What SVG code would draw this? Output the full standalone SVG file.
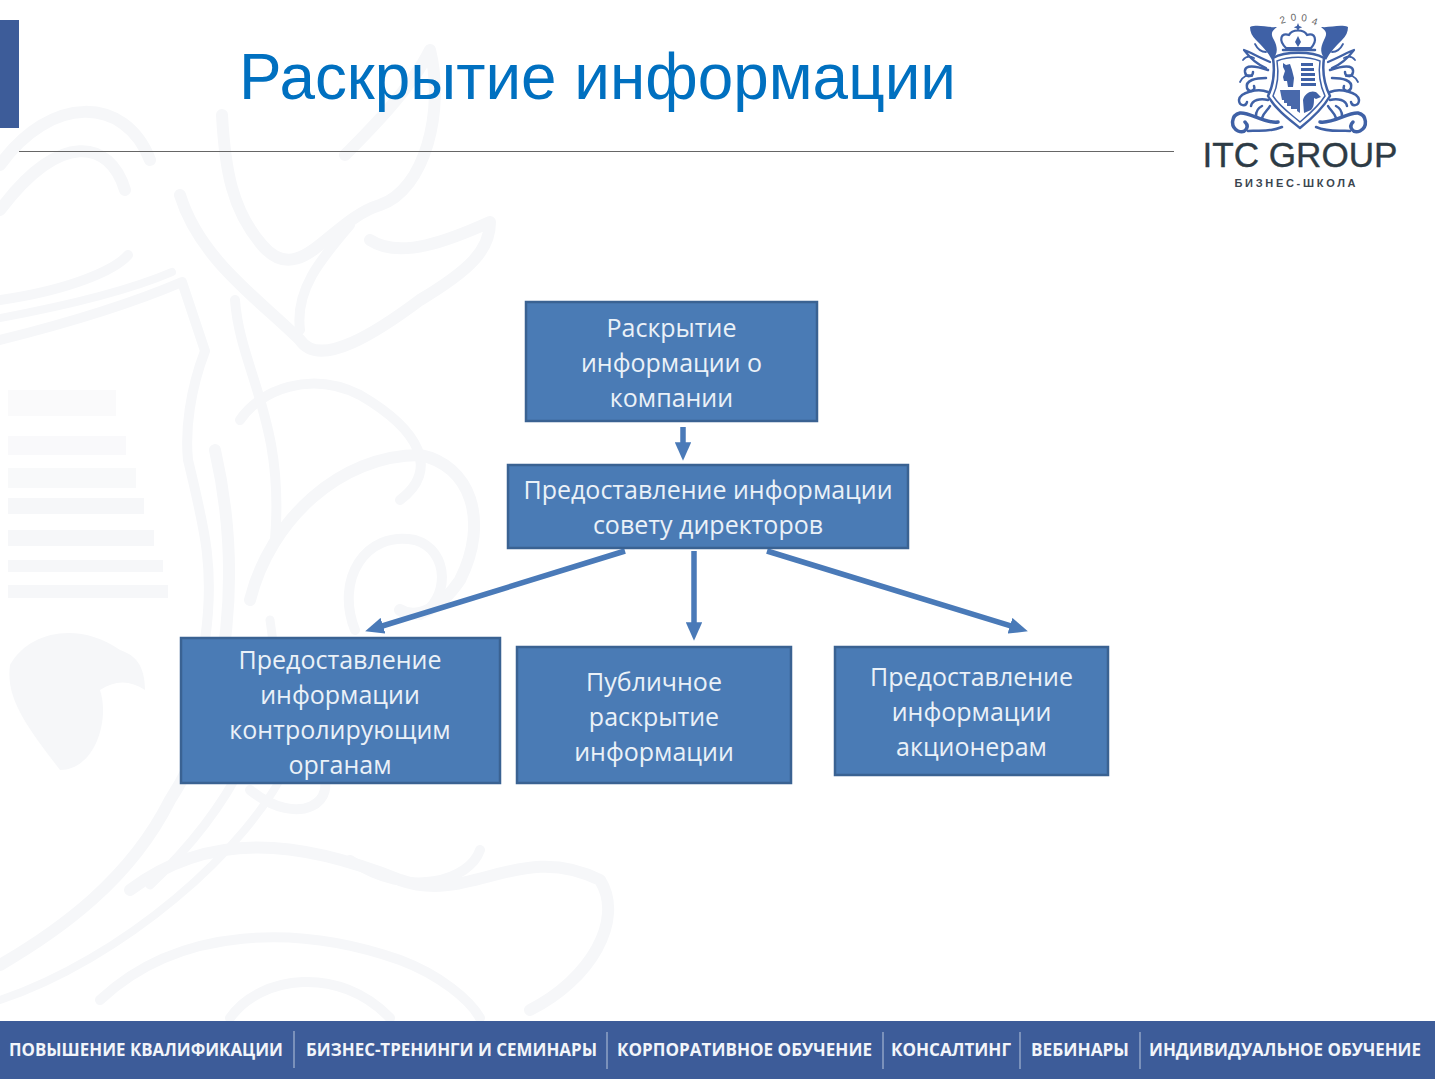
<svg xmlns="http://www.w3.org/2000/svg" width="1435" height="1079" viewBox="0 0 1435 1079">
<defs>
<marker id="ah" viewBox="0 0 10 10" refX="5" refY="5" markerWidth="3.400" markerHeight="3" orient="auto" preserveAspectRatio="none"><path d="M0 0L10 5L0 10Z" fill="#4a7ab8"/></marker>
<g id="scroll">
<path class="lf" d="M1250 27C1258 24 1268 28 1277 27C1272 31 1270 33 1274 40C1278 48 1278 54 1272 60C1268 52 1262 46 1256 40C1252 36 1250 32 1250 27Z"/>
<path class="lg" stroke-width="2.200" d="M1270 62C1260 58 1250 52 1244 50C1250 58 1256 64 1266 68"/>
<path class="lg" stroke-width="2.500" d="M1268 70C1256 66 1244 64 1245 72C1246 78 1253 77 1253 72M1266 78C1256 78 1245 80 1247 88C1249 93 1256 91 1254 86"/>
<path class="lg" stroke-width="2.500" d="M1268 92C1258 88 1240 92 1239 100C1239 106 1246 107 1247 102M1268 100C1260 98 1252 100 1251 106"/>
<path class="lg" stroke-width="3.500" d="M1278 122C1265 124 1250 112 1240 113C1231 115 1230 127 1238 131C1245 134 1250 127 1245 122"/>
<path class="lg" stroke-width="2.500" d="M1282 127C1268 133 1256 130 1248 131M1262 118C1264 112 1268 110 1270 106M1256 116C1256 112 1258 108 1262 106"/>
<path class="lg" stroke-width="1.800" d="M1255 44C1258 50 1262 52 1266 52M1243 60C1246 56 1250 56 1254 58M1240 82C1243 76 1248 74 1252 76"/>
</g>
</defs>
<style>
.box{fill:#4a7bb5;stroke:#3a6292;stroke-width:2.5}
.lbl{font-family:"Open Sans","Noto Sans",sans-serif;font-size:25px;fill:#eaf1f8;text-anchor:middle}
.con{fill:none;stroke:#4a7ab8;stroke-width:5.5;marker-end:url(#ah)}
.wm{fill:none;stroke:#f6f7f9;stroke-linecap:round;stroke-linejoin:round}
.wf{fill:#f6f7f9}
.ft{font-family:"Open Sans","Noto Sans",sans-serif;font-size:17px;font-weight:700;fill:#f2f5fa}
.sep{stroke:#b9c6dc;stroke-width:1}
.lg{fill:none;stroke:#3f61a6;stroke-linecap:round;stroke-linejoin:round}
.lf{fill:#3f61a6}
</style>
<rect width="1435" height="1079" fill="#fff"/>
<g id="watermark">
<path class="wm" stroke-width="12" d="M0 165C50 95 125 95 150 160M0 210C60 130 110 140 125 190"/>
<path class="wm" stroke-width="10" d="M0 300C70 290 115 270 128 255M0 340C80 320 140 300 182 282L205 351C190 390 185 430 188 460C205 530 215 570 205 640"/>
<path class="wm" stroke-width="8" d="M0 318C70 305 130 290 172 272"/>
<path class="wm" stroke-width="12" d="M222 115C225 170 232 210 262 245C300 290 330 220 380 205C425 190 445 110 430 50C410 90 370 130 345 155"/>
<path class="wm" stroke-width="12" d="M180 195C200 260 260 300 300 340C320 370 380 330 420 300C470 270 490 250 490 222C450 240 400 260 370 240"/>
<path class="wm" stroke-width="10" d="M300 330C295 290 320 260 350 225M240 420C260 390 310 370 360 395C420 430 440 470 400 500"/>
<path class="wm" stroke-width="12" d="M250 600C270 520 340 455 420 455C470 465 490 520 460 580C440 610 415 620 400 610"/>
<path class="wm" stroke-width="10" d="M355 630C335 580 365 530 415 540C450 550 450 600 420 615M235 300C240 370 285 420 275 540"/>
<path class="wm" stroke-width="12" d="M215 450C240 560 235 700 170 800C130 880 60 930 0 965"/>
<path class="wm" stroke-width="9" d="M270 620C285 700 240 800 150 885"/>
<rect class="wf" x="8" y="390" width="108" height="26" opacity=".6"/><rect class="wf" x="8" y="436" width="118" height="19" opacity=".7"/><rect class="wf" x="8" y="468" width="128" height="20" opacity=".8"/><rect class="wf" x="8" y="498" width="136" height="16"/><rect class="wf" x="8" y="530" width="146" height="16"/><rect class="wf" x="8" y="560" width="155" height="12"/><rect class="wf" x="8" y="585" width="160" height="13"/>
<path class="wf" d="M10 665C30 630 80 622 120 650C135 655 145 665 145 690C130 680 115 680 100 690C110 720 95 770 60 770C30 730 5 700 10 665Z"/>
<path class="wm" stroke-width="12" d="M130 890C210 830 300 840 400 880C470 905 520 840 600 880C625 920 590 980 530 1010"/>
<path class="wm" stroke-width="10" d="M100 1000C180 925 300 925 400 960C440 975 470 1000 480 1018"/>
<path class="wm" stroke-width="10" d="M250 790C300 830 340 800 320 770M350 860C410 900 470 880 480 850M230 1018C260 975 340 965 390 1018"/>
<path class="wm" stroke-width="8" d="M0 1000C120 960 250 850 290 760"/>
</g>
<rect id="accent" x="0" y="20" width="19" height="108" fill="#3d5c99"/>
<line id="rule" x1="19" y1="151.500" x2="1174" y2="151.500" stroke="#666" stroke-width="1.200"/>
<text id="title" x="239" y="99" font-family="Liberation Sans,Arial,sans-serif" font-size="64" fill="#0070c0" textLength="717" lengthAdjust="spacingAndGlyphs">Раскрытие информации</text>
<g id="logo">
<text x="1281 1291 1301 1311" y="24 21 21 24" rotate="-18 -6 6 18" font-family="Liberation Sans,sans-serif" font-size="10" fill="#666">2004</text>
<path class="lf" d="M1298 23l1.200 3 3 1.200-3 1.200-1.200 3-1.200-3-3-1.200 3-1.200z"/>
<path class="lg" stroke-width="2.200" d="M1286 48C1278 40 1281 32 1289 35C1292 29 1304 29 1307 35C1315 32 1318 40 1311 48Z"/>
<path class="lg" stroke-width="2.500" d="M1283 50H1315"/>
<path class="lf" d="M1298 36l3 6-3 5-3-5z"/>
<path class="lg" stroke-width="2.500" d="M1273 58C1285 51 1312 51 1324 58C1322 72 1324 84 1330 96C1322 110 1310 120 1300 128C1290 120 1276 110 1268 96C1274 84 1275 72 1273 58Z"/>
<path class="lg" stroke-width="1.500" d="M1277 61C1288 56 1308 56 1320 61C1318 74 1320 85 1325 96C1318 107 1308 115 1300 122C1292 115 1280 107 1273 96C1278 85 1279 74 1277 61Z"/>
<path class="lf" d="M1283 63l3 2 4-1 2 6 2 8-1 9h-5l-1-6-3 0-1-4 2-6-2-4z"/>
<path class="lf" d="M1301 63h12v3h-12zM1301 68h13v3h-13zM1301 73h14v3h-14zM1301 78h14v3h-14zM1301 83h15v3h-15z"/>
<path class="lf" d="M1280 90h20v23l-3-2v-2h-6v-3h-4v-3h-3v-3h-2z" opacity=".95"/>
<path class="lf" d="M1303 100c2-8 11-11 15-6l3 3-5 2-2-1c0 5 0 9-3 12l-7 3z"/>
<use href="#scroll"/>
<use href="#scroll" transform="translate(2598 0) scale(-1 1)"/>
<text x="1300" y="167" font-family="Liberation Sans,Arial,sans-serif" font-size="35" fill="#2d3b45" stroke="#2d3b45" stroke-width=".4" text-anchor="middle" textLength="195" lengthAdjust="spacingAndGlyphs">ITC GROUP</text>
<text x="1295" y="187" font-family="Liberation Sans,Arial,sans-serif" font-size="11" font-weight="700" fill="#3b4650" text-anchor="middle" textLength="121">БИЗНЕС-ШКОЛА</text>
</g>
<g id="connectors">
<path class="con" d="M683 427V451.500"/>
<path class="con" d="M625 551L374.100 628.500"/>
<path class="con" d="M694 551V631.500"/>
<path class="con" d="M767 551L1018.900 628.500"/>
</g>
<g id="n1"><rect class="box" x="526" y="302" width="291" height="119"/>
<text class="lbl" x="671.500" y="337">Раскрытие</text><text class="lbl" x="671.500" y="372">информации о</text><text class="lbl" x="671.500" y="407">компании</text></g>
<g id="n2"><rect class="box" x="508" y="465" width="400" height="83"/>
<text class="lbl" x="708" y="499">Предоставление информации</text><text class="lbl" x="708" y="534">совету директоров</text></g>
<g id="n3"><rect class="box" x="181" y="638" width="319" height="145"/>
<text class="lbl" x="340" y="669">Предоставление</text><text class="lbl" x="340" y="704">информации</text><text class="lbl" x="340" y="739">контролирующим</text><text class="lbl" x="340" y="774">органам</text></g>
<g id="n4"><rect class="box" x="517" y="647" width="274" height="136"/>
<text class="lbl" x="654" y="691">Публичное</text><text class="lbl" x="654" y="726">раскрытие</text><text class="lbl" x="654" y="761">информации</text></g>
<g id="n5"><rect class="box" x="835" y="647" width="273" height="128"/>
<text class="lbl" x="971.500" y="686">Предоставление</text><text class="lbl" x="971.500" y="721">информации</text><text class="lbl" x="971.500" y="756">акционерам</text></g>
<g id="footer">
<rect x="0" y="1021" width="1435" height="58" fill="#3d5c99"/>
<line class="sep" x1="294" y1="1031" x2="294" y2="1068"/><line class="sep" x1="607" y1="1032" x2="607" y2="1069"/><line class="sep" x1="883" y1="1032" x2="883" y2="1069"/><line class="sep" x1="1020" y1="1032" x2="1020" y2="1069"/><line class="sep" x1="1140" y1="1032" x2="1140" y2="1069"/>
<text class="ft" x="9" y="1056" textLength="274" lengthAdjust="spacingAndGlyphs">ПОВЫШЕНИЕ КВАЛИФИКАЦИИ</text>
<text class="ft" x="306" y="1056" textLength="291" lengthAdjust="spacingAndGlyphs">БИЗНЕС-ТРЕНИНГИ И СЕМИНАРЫ</text>
<text class="ft" x="617" y="1056" textLength="255" lengthAdjust="spacingAndGlyphs">КОРПОРАТИВНОЕ ОБУЧЕНИЕ</text>
<text class="ft" x="891" y="1056" textLength="120" lengthAdjust="spacingAndGlyphs">КОНСАЛТИНГ</text>
<text class="ft" x="1031" y="1056" textLength="98" lengthAdjust="spacingAndGlyphs">ВЕБИНАРЫ</text>
<text class="ft" x="1149" y="1056" textLength="272" lengthAdjust="spacingAndGlyphs">ИНДИВИДУАЛЬНОЕ ОБУЧЕНИЕ</text>
</g>
</svg>
